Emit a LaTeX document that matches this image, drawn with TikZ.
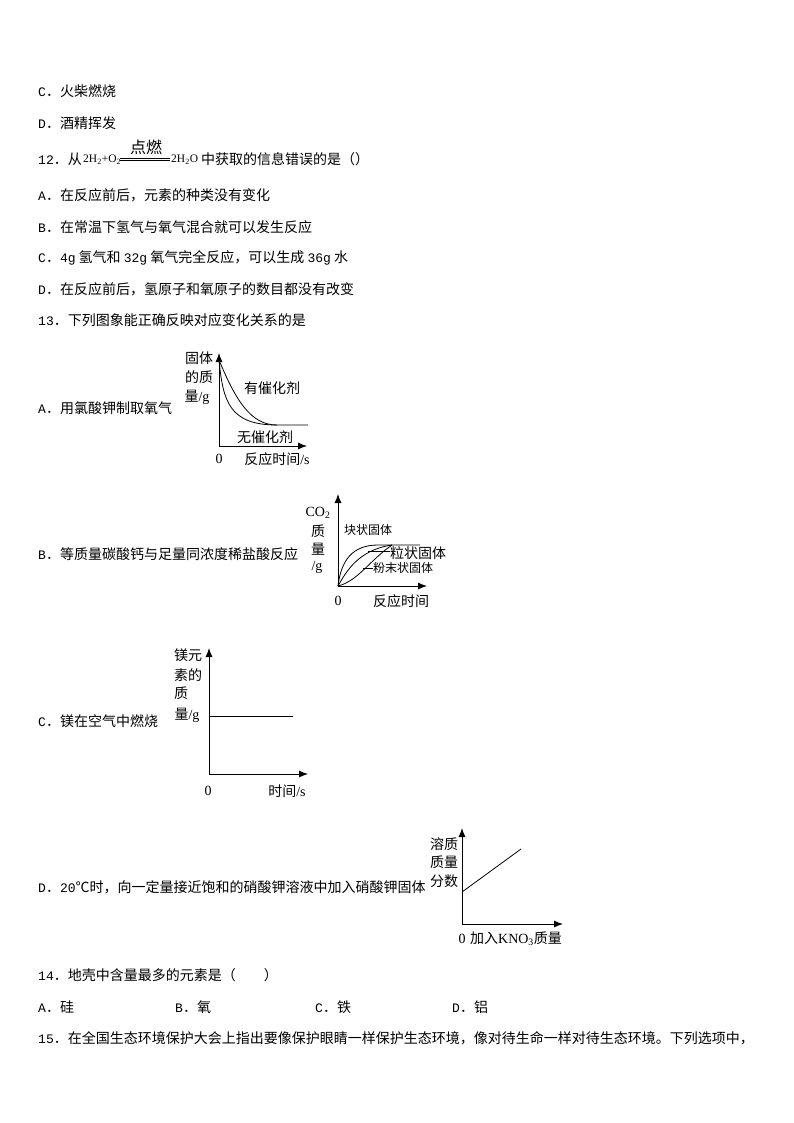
\documentclass[tikz,border=0pt]{standalone}
\usepackage{fontspec}
\usepackage{tikz}
\setmainfont{Noto Sans CJK SC}
\newfontfamily\latserif{Liberation Serif}
\newfontfamily\latmono{Liberation Mono}
\newcommand{\lm}[1]{{\latmono\fontsize{13}{14}\selectfont #1}}
\newcommand{\ls}[1]{{\latserif #1}}
\usetikzlibrary{arrows.meta}
\tikzset{txt/.style = {anchor = west, inner sep = 0, font = \fontsize{14}{16}\selectfont}}
\tikzset{lab/.style = {inner sep = 0, font = \fontsize{14}{16}\selectfont}}
\tikzset{labs/.style = {inner sep = 0, font = \fontsize{12}{14}\selectfont}}
\tikzset{axis/.style = {-{Latex[length = 9pt, width = 7pt]}, line width = 0.9pt}}
\tikzset{curve/.style = {line width = 0.8pt}}

\begin{document}
\begin{tikzpicture}[x = 1pt, y = -1pt]
    \useasboundingbox (0, 0) rectangle (794, 1123);

    \node [txt] (lineC) at (38, 91) {\lm{C}．火柴燃烧};
    \node [txt] (lineD) at (38, 123) {\lm{D}．酒精挥发};
    \node [txt] (q12) at (38, 159) {\lm{12}．从};
    \node [txt, font = \fontsize{11.5}{14}\selectfont] (reac) at (83, 160) {\ls{2H\textsubscript{2}+O\textsubscript{2}}};
    \node [lab, font = \fontsize{16}{18}\selectfont] (cond) at (146, 147) {点燃};
    \coordinate (eqa) at (120, 158.5);
    \coordinate (eqb) at (170, 158.5);
    \coordinate (eqc) at (120, 160.5);
    \coordinate (eqd) at (170, 160.5);
    \draw [line width = 0.6pt] (eqa) -- (eqb);
    \draw [line width = 0.6pt] (eqc) -- (eqd);
    \node [txt, font = \fontsize{11.5}{14}\selectfont] (prod) at (171, 160) {\ls{2H\textsubscript{2}O}};
    \node [txt] (q12b) at (201, 159) {中获取的信息错误的是（）};
    \node [txt] (a12) at (38, 195) {\lm{A}．在反应前后，元素的种类没有变化};
    \node [txt] (b12) at (38, 227) {\lm{B}．在常温下氢气与氧气混合就可以发生反应};
    \node [txt] (c12) at (38, 258) {\lm{C}．\lm{4g} 氢气和 \lm{32g} 氧气完全反应，可以生成 \lm{36g} 水};
    \node [txt] (d12) at (38, 289) {\lm{D}．在反应前后，氢原子和氧原子的数目都没有改变};
    \node [txt] (q13) at (38, 320) {\lm{13}．下列图象能正确反映对应变化关系的是};

    \node [txt] (a13) at (38, 408) {\lm{A}．用氯酸钾制取氧气};
    \begin{scope}[shift = {(219, 446)}]
      \coordinate (oa) at (0, 0);
      \coordinate (ya) at (0, -93);
      \coordinate (xa) at (88, 0);
      \draw [axis] (oa) -- (ya);
      \draw [axis] (oa) -- (xa);
      \draw [curve] (0, -86) .. controls (17, -45) and (32, -21) .. (58, -21) -- (89, -21);
      \draw [curve] (0, -86) .. controls (4, -45) and (10, -21) .. (58, -21);

      \node [lab] (a1) at (-20, -88) {固体};
      \node [lab] (a2) at (-20, -69) {的质};
      \node [lab] (a3) at (-22, -49) {量\ls{/g}};
      \node [lab] (a4) at (53, -58) {有催化剂};
      \node [lab] (a5) at (46, -9) {无催化剂};
      \node [lab] (a6) at (0, 13) {\ls{0}};
      \node [lab] (a7) at (58, 13) {反应时间\ls{/s}};
    \end{scope}

    \node [txt] (b13) at (38, 554) {\lm{B}．等质量碳酸钙与足量同浓度稀盐酸反应};
    \begin{scope}[shift = {(338, 586)}]
      \coordinate (ob) at (0, 0);
      \coordinate (yb) at (0, -92);
      \coordinate (xb) at (89, 0);
      \draw [axis] (ob) -- (yb);
      \draw [axis] (ob) -- (xb);
      \draw [curve] (0, 0) .. controls (3, -25) and (14, -41) .. (40, -41) -- (82, -41);
      \draw [curve] (0, 0) .. controls (8, -14) and (20, -36) .. (54, -41);
      \draw [curve] (0, 0) .. controls (20, -5) and (32, -26) .. (54, -41);
      \draw [curve] (30, -35) -- (52, -35);
      \draw [curve] (25, -18) -- (35, -18);

      \node [lab] (b1) at (-20, -73) {\ls{CO\textsubscript{2}}};
      \node [lab] (b2) at (-20, -55) {质};
      \node [lab] (b3) at (-20, -37) {量};
      \node [lab] (b4) at (-21, -19) {\ls{/g}};
      \node [labs] (b5) at (30, -56) {块状固体};
      \node [lab] (b6) at (80, -33) {粒状固体};
      \node [labs] (b7) at (65, -18) {粉末状固体};
      \node [lab] (b8) at (0, 15) {\ls{0}};
      \node [lab] (b9) at (63, 15) {反应时间};
    \end{scope}

    \node [txt] (c13) at (38, 721) {\lm{C}．镁在空气中燃烧};
    \begin{scope}[shift = {(209, 774)}]
      \coordinate (oc) at (0, 0);
      \coordinate (yc) at (0, -126);
      \coordinate (xc) at (99, 0);
      \coordinate (la) at (0, -58);
      \coordinate (lb) at (84, -58);
      \draw [axis] (oc) -- (yc);
      \draw [axis] (oc) -- (xc);
      \draw [curve] (la) -- (lb);

      \node [lab] (c1) at (-21, -119) {镁元};
      \node [lab] (c2) at (-21, -99) {素的};
      \node [lab] (c3) at (-28, -81) {质};
      \node [lab] (c4) at (-22, -59) {量\ls{/g}};
      \node [lab] (c5) at (-1, 17) {\ls{0}};
      \node [lab] (c6) at (78, 17) {时间\ls{/s}};
    \end{scope}

    \node [txt] (d13) at (38, 887) {\lm{D}．\lm{20}℃时，向一定量接近饱和的硝酸钾溶液中加入硝酸钾固体};
    \begin{scope}[shift = {(462, 924)}]
      \coordinate (od) at (0, 0);
      \coordinate (yd) at (0, -96);
      \coordinate (xd) at (101, 0);
      \coordinate (le) at (0, -32);
      \coordinate (lf) at (59, -75);
      \draw [axis] (od) -- (yd);
      \draw [axis] (od) -- (xd);
      \draw [curve] (le) -- (lf);

      \node [lab] (d1) at (-18, -80) {溶质};
      \node [lab] (d2) at (-18, -62) {质量};
      \node [lab] (d3) at (-18, -43) {分数};
      \node [lab] (d4) at (0, 15) {\ls{0}};
      \node [lab] (d5) at (54, 15) {加入\ls{KNO\textsubscript{3}}质量};
    \end{scope}

    \node [txt] (q14) at (38, 975) {\lm{14}．地壳中含量最多的元素是（\hspace{28pt}）};
    \node [txt] (a14) at (38, 1007) {\lm{A}．硅};
    \node [txt] (b14) at (175, 1007) {\lm{B}．氧};
    \node [txt] (c14) at (315, 1007) {\lm{C}．铁};
    \node [txt] (d14) at (452, 1007) {\lm{D}．铝};
    \node [txt] (q15) at (38, 1038) {\lm{15}．在全国生态环境保护大会上指出要像保护眼睛一样保护生态环境，像对待生命一样对待生态环境。下列选项中，};
\end{tikzpicture}
\end{document}
